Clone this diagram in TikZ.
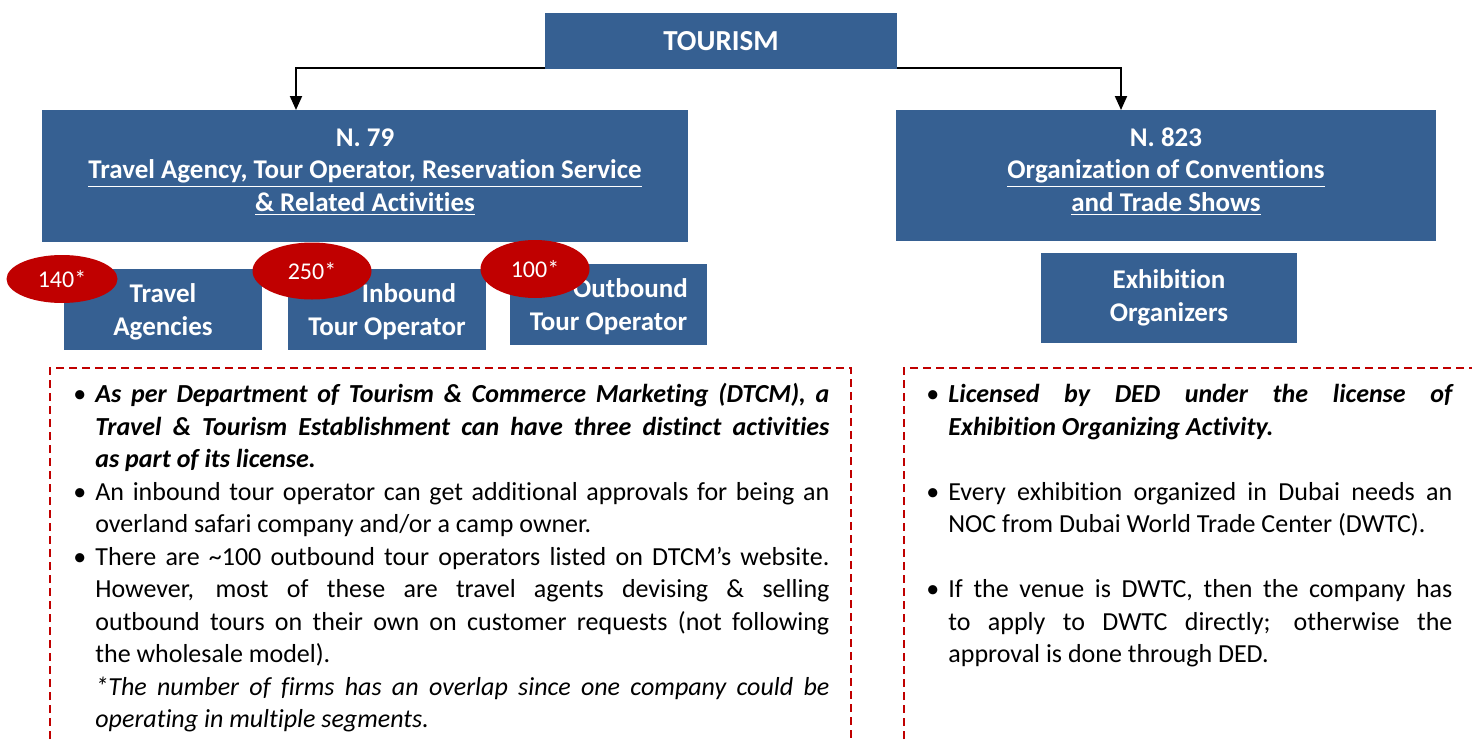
\documentclass[tikz,border=0pt]{standalone}
\usepackage{fontspec}
\setmainfont{Carlito}[Ligatures=NoCommon]
\usetikzlibrary{arrows.meta,shapes.geometric}
\definecolor{boxblue}{HTML}{366092}
\definecolor{tagred}{HTML}{C00000}
\tikzset{
  catbox/.style={rectangle, fill=boxblue, text=white, align=center, inner sep=0pt,
    font=\bfseries\fontsize{13.5}{16.25}\selectfont},
  subbox/.style={catbox, minimum width=99pt, minimum height=40.5pt, text depth=0pt,
    font=\bfseries\fontsize{13.5}{16.5}\selectfont},
  tagoval/.style={ellipse, fill=tagred, text=white, inner sep=0pt,
    font=\fontsize{12}{14}\selectfont},
  linkarrow/.style={line width=1pt, -{Triangle[width=6pt,length=7pt]}},
  notebox/.style={draw=tagred, line width=1pt, dash pattern=on 4pt off 2.5pt},
  notetext/.style={anchor=north west, inner sep=0pt, align=justify,
    font=\fontsize{13}{16.25}\selectfont}
}
\newcommand{\bitem}{\par\noindent\hangindent=11pt\hangafter=1\makebox[11pt][l]{\textbullet}}
\newcommand{\bnote}{\par\noindent\hangindent=11pt\hangafter=0}
\begin{document}
\begin{tikzpicture}[x=0.5pt,y=-0.5pt]
        \useasboundingbox (0,0) rectangle (1472,739);

        \node[catbox, minimum width=176pt, minimum height=28pt,
          font=\bfseries\fontsize{14.5}{16}\selectfont] (tourism) at (721,41) {TOURISM};
        \node[catbox, minimum width=323pt, minimum height=66pt, text depth=6pt] (n79) at (365,176)
          {N. 79\\\underline{Travel Agency, Tour Operator, Reservation Service}\\\underline{\& Related Activities}};
        \node[catbox, minimum width=270pt, minimum height=65.5pt, text depth=6pt] (n823) at (1166,175.5)
          {N. 823\\\underline{Organization of Conventions}\\\underline{and Trade Shows}};

        \coordinate (a79) at (296,110);
        \coordinate (a823) at (1121,110);
        \draw[linkarrow] ([yshift=0.5pt]tourism.south west) -| (a79);
        \draw[linkarrow] ([yshift=0.5pt]tourism.south east) -| (a823);

        \node[subbox] (travel) at (163,309.5) {Travel\\Agencies};
        \node[subbox] (inbound) at (387,309.5) {\hspace*{22pt}Inbound\\Tour Operator};
        \node[subbox, minimum width=98.5pt] (outbound) at (608.5,304.5) {\hspace*{22pt}Outbound\\Tour Operator};
        \node[catbox, minimum width=128pt, minimum height=45pt] (exhib) at (1169,298)
          {Exhibition\\Organizers};

        \node[tagoval, minimum width=55.5pt, minimum height=24pt] (t140) at (62,279) {140*};
        \node[tagoval, minimum width=59.5pt, minimum height=28.5pt] (t250) at (312,271) {250*};
        \node[tagoval, minimum width=54.5pt, minimum height=29pt] (t100) at (535,269) {100*};

        % note frames
        \draw[notebox] (50,739) -- (50,368) -- (851,368) -- (851,739);
        \draw[notebox] (904,739) -- (904,368) -- (1472,368);

        \node[notetext, text width=378pt] (leftnote) at (73,370) {%
          \bitem\textbf{\textit{As per Department of Tourism \& Commerce Marketing (DTCM), a\linebreak
          Travel \& Tourism Establishment can have three distinct activities\linebreak
          as part of its license.}}
          \bitem An inbound tour operator can get additional approvals for being an\linebreak
          overland safari company and/or a camp owner.
          \bitem There are \textasciitilde100 outbound tour operators listed on DTCM’s website.\linebreak
          However, most of these are travel agents devising \& selling\linebreak
          outbound tours on their own on customer requests (not following\linebreak
          the wholesale model).
          \bnote\textit{*The number of firms has an overlap since one company could be\linebreak
          operating in multiple segments.}\par};
        \node[notetext, text width=263pt] (rightnote) at (926,370) {%
          \bitem\textbf{\textit{Licensed by DED under the license of\linebreak
          Exhibition Organizing Activity.}}
          \par\vskip\baselineskip
          \bitem Every exhibition organized in Dubai needs an\linebreak
          NOC from Dubai World Trade Center (DWTC).
          \par\vskip\baselineskip
          \bitem If the venue is DWTC, then the company has\linebreak
          to apply to DWTC directly; otherwise the\linebreak
          approval is done through DED.\par};
\end{tikzpicture}
\end{document}
